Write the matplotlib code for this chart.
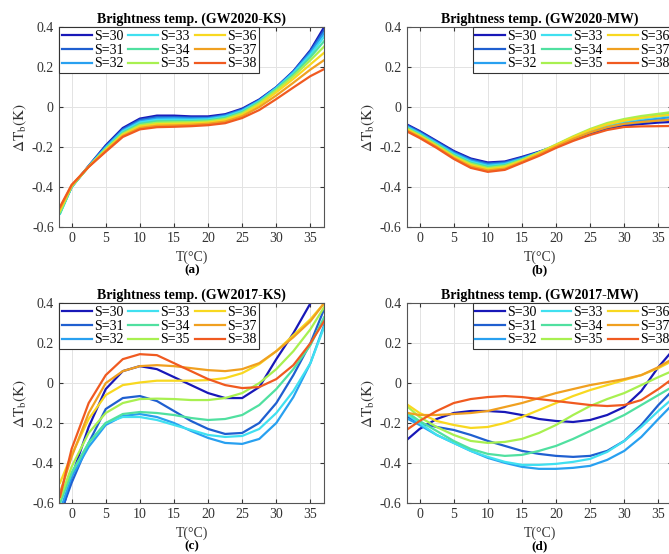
import matplotlib
matplotlib.use("Agg")
import matplotlib.pyplot as plt

plt.rcParams['font.family'] = ['Liberation Serif', 'DejaVu Serif']
plt.rcParams['mathtext.fontset'] = 'stix'

temps = [-1.7, 0, 2.5, 5, 7.5, 10, 12.5, 15, 17.5, 20, 22.5, 25, 27.5, 30, 32.5, 35, 37]
salinities = [30, 31, 32, 33, 34, 35, 36, 37, 38]
colors = ['#1818b8', '#1f5fd0', '#28a0f0', '#40e0f0', '#50e0a0',
          '#a8f050', '#f8d820', '#f0a020', '#f05a20']

# (a) GW2020-KS, one row per salinity
gw2020_ks = [
    [-0.525, -0.400, -0.295, -0.192, -0.105, -0.058, -0.043, -0.043, -0.047, -0.047, -0.036, -0.008, 0.038, 0.100, 0.180, 0.285, 0.400],
    [-0.528, -0.400, -0.296, -0.197, -0.111, -0.064, -0.050, -0.050, -0.053, -0.053, -0.040, -0.012, 0.035, 0.099, 0.178, 0.280, 0.385],
    [-0.532, -0.401, -0.297, -0.201, -0.117, -0.071, -0.057, -0.056, -0.058, -0.057, -0.044, -0.016, 0.032, 0.097, 0.175, 0.272, 0.370],
    [-0.535, -0.401, -0.298, -0.205, -0.122, -0.077, -0.064, -0.063, -0.064, -0.062, -0.049, -0.020, 0.029, 0.094, 0.170, 0.262, 0.352],
    [-0.532, -0.400, -0.298, -0.209, -0.128, -0.084, -0.071, -0.070, -0.070, -0.067, -0.054, -0.025, 0.025, 0.090, 0.163, 0.250, 0.330],
    [-0.525, -0.398, -0.299, -0.212, -0.134, -0.091, -0.079, -0.077, -0.076, -0.072, -0.060, -0.031, 0.019, 0.084, 0.154, 0.235, 0.303],
    [-0.515, -0.395, -0.299, -0.216, -0.139, -0.098, -0.086, -0.084, -0.082, -0.078, -0.066, -0.038, 0.011, 0.074, 0.141, 0.214, 0.272],
    [-0.508, -0.393, -0.300, -0.220, -0.145, -0.105, -0.094, -0.092, -0.089, -0.084, -0.073, -0.046, 0.000, 0.058, 0.122, 0.188, 0.235],
    [-0.500, -0.390, -0.300, -0.224, -0.150, -0.112, -0.101, -0.099, -0.096, -0.091, -0.081, -0.055, -0.015, 0.040, 0.098, 0.155, 0.190],
]

# (b) GW2020-MW
gw2020_mw = [
    [-0.090, -0.120, -0.170, -0.220, -0.258, -0.278, -0.273, -0.250, -0.224, -0.195, -0.162, -0.132, -0.108, -0.093, -0.085, -0.078, -0.075],
    [-0.094, -0.124, -0.174, -0.225, -0.263, -0.283, -0.277, -0.254, -0.226, -0.195, -0.160, -0.128, -0.103, -0.086, -0.077, -0.068, -0.062],
    [-0.099, -0.129, -0.179, -0.230, -0.268, -0.289, -0.282, -0.258, -0.228, -0.195, -0.158, -0.124, -0.097, -0.079, -0.068, -0.058, -0.050],
    [-0.103, -0.133, -0.183, -0.235, -0.274, -0.295, -0.287, -0.261, -0.229, -0.193, -0.155, -0.119, -0.091, -0.072, -0.059, -0.048, -0.040],
    [-0.107, -0.137, -0.187, -0.240, -0.279, -0.300, -0.291, -0.263, -0.228, -0.190, -0.151, -0.114, -0.085, -0.065, -0.051, -0.040, -0.032],
    [-0.111, -0.141, -0.191, -0.245, -0.285, -0.306, -0.296, -0.266, -0.228, -0.188, -0.147, -0.110, -0.080, -0.060, -0.045, -0.034, -0.025],
    [-0.115, -0.145, -0.196, -0.250, -0.291, -0.312, -0.302, -0.270, -0.232, -0.191, -0.151, -0.115, -0.087, -0.068, -0.055, -0.045, -0.038],
    [-0.120, -0.150, -0.200, -0.255, -0.298, -0.318, -0.309, -0.275, -0.238, -0.198, -0.160, -0.127, -0.101, -0.084, -0.075, -0.068, -0.063],
    [-0.125, -0.155, -0.205, -0.260, -0.305, -0.325, -0.315, -0.280, -0.245, -0.205, -0.170, -0.140, -0.115, -0.100, -0.097, -0.096, -0.095],
]

# (c) GW2017-KS
gw2017_ks = [
    [-0.680, -0.470, -0.220, -0.030, 0.060, 0.085, 0.070, 0.030, -0.010, -0.050, -0.075, -0.075, -0.020, 0.120, 0.250, 0.400, 0.600],
    [-0.660, -0.500, -0.300, -0.130, -0.075, -0.065, -0.090, -0.140, -0.190, -0.230, -0.255, -0.250, -0.200, -0.100, 0.040, 0.200, 0.370],
    [-0.640, -0.470, -0.320, -0.210, -0.165, -0.155, -0.170, -0.200, -0.240, -0.275, -0.300, -0.305, -0.280, -0.200, -0.070, 0.100, 0.290],
    [-0.600, -0.450, -0.300, -0.200, -0.170, -0.170, -0.185, -0.210, -0.235, -0.260, -0.270, -0.265, -0.230, -0.150, -0.040, 0.100, 0.280],
    [-0.600, -0.450, -0.300, -0.200, -0.155, -0.145, -0.150, -0.160, -0.175, -0.185, -0.180, -0.160, -0.110, -0.030, 0.070, 0.190, 0.330],
    [-0.580, -0.420, -0.250, -0.150, -0.100, -0.080, -0.078, -0.080, -0.085, -0.085, -0.075, -0.050, 0.000, 0.070, 0.160, 0.270, 0.380],
    [-0.500, -0.360, -0.180, -0.060, -0.010, 0.003, 0.012, 0.012, 0.012, 0.015, 0.025, 0.050, 0.095, 0.160, 0.240, 0.320, 0.400],
    [-0.550, -0.370, -0.150, 0.000, 0.060, 0.085, 0.090, 0.085, 0.075, 0.065, 0.060, 0.070, 0.100, 0.160, 0.230, 0.310, 0.400],
    [-0.570, -0.330, -0.100, 0.040, 0.120, 0.145, 0.140, 0.100, 0.060, 0.020, -0.010, -0.025, -0.020, 0.020, 0.090, 0.200, 0.310],
]

# (d) GW2017-MW
gw2017_mw = [
    [-0.280, -0.230, -0.180, -0.150, -0.140, -0.140, -0.145, -0.160, -0.180, -0.190, -0.195, -0.185, -0.160, -0.120, -0.040, 0.080, 0.160],
    [-0.170, -0.200, -0.220, -0.235, -0.260, -0.290, -0.315, -0.340, -0.355, -0.365, -0.370, -0.365, -0.340, -0.290, -0.210, -0.110, -0.040],
    [-0.180, -0.210, -0.260, -0.300, -0.340, -0.375, -0.400, -0.420, -0.430, -0.430, -0.425, -0.415, -0.385, -0.340, -0.270, -0.180, -0.110],
    [-0.160, -0.200, -0.260, -0.300, -0.340, -0.370, -0.395, -0.410, -0.410, -0.405, -0.395, -0.380, -0.345, -0.290, -0.220, -0.140, -0.080],
    [-0.150, -0.190, -0.240, -0.290, -0.330, -0.355, -0.365, -0.360, -0.340, -0.315, -0.280, -0.240, -0.200, -0.160, -0.110, -0.060, -0.020],
    [-0.120, -0.170, -0.220, -0.260, -0.290, -0.300, -0.295, -0.280, -0.250, -0.210, -0.160, -0.115, -0.080, -0.050, -0.010, 0.030, 0.060],
    [-0.110, -0.150, -0.190, -0.210, -0.225, -0.220, -0.200, -0.170, -0.135, -0.100, -0.065, -0.035, -0.010, 0.015, 0.040, 0.075, 0.110],
    [-0.150, -0.160, -0.160, -0.155, -0.150, -0.140, -0.120, -0.100, -0.075, -0.050, -0.030, -0.010, 0.005, 0.020, 0.040, 0.080, 0.120],
    [-0.230, -0.190, -0.140, -0.100, -0.080, -0.070, -0.065, -0.070, -0.080, -0.090, -0.100, -0.110, -0.115, -0.110, -0.085, -0.030, 0.020],
]

panels = [
    (gw2020_ks, 'Brightness temp. (GW2020-KS)', '(a)', 'upper left', [0.0887, 0.5908, 0.3957, 0.36]),
    (gw2020_mw, 'Brightness temp. (GW2020-MW)', '(b)', 'upper right', [0.6088, 0.5908, 0.3957, 0.36]),
    (gw2017_ks, 'Brightness temp. (GW2017-KS)', '(c)', 'upper left', [0.0887, 0.0925, 0.3957, 0.36]),
    (gw2017_mw, 'Brightness temp. (GW2017-MW)', '(d)', 'upper right', [0.6088, 0.0925, 0.3957, 0.36]),
]

fig = plt.figure(figsize=(6.69, 5.54), dpi=100)

for data, title, tag, loc, pos in panels:
    ax = fig.add_axes(pos)
    for s, col, vals in zip(salinities, colors, data):
        ax.plot(temps, vals, color=col, linewidth=1.6, label=f"S={s}")
    ax.set_xlim(-1.8, 37)
    ax.set_ylim(-0.6, 0.4)
    ax.set_xticks([0, 5, 10, 15, 20, 25, 30, 35])
    ax.set_yticks([-0.6, -0.4, -0.2, 0, 0.2, 0.4])
    ax.set_yticklabels(['-0.6', '-0.4', '-0.2', '0', '0.2', '0.4'])
    ax.grid(True, color='#e3e3e3', linewidth=0.7)
    ax.set_axisbelow(True)
    ax.tick_params(direction='in', length=3, labelsize=10, colors='#333333',
                   top=True, right=True, pad=4)
    for sp in ax.spines.values():
        sp.set_color('#555555')
        sp.set_linewidth(0.8)
    ax.set_title(title, fontsize=10, fontweight='bold', pad=3)
    ax.set_xlabel('T(°C)', fontsize=10, color='#333333', labelpad=3.5)
    ax.set_ylabel(r'$\Delta\mathrm{T_b(K)}$', fontsize=11, color='#333333', labelpad=2)
    ax.text(0.5, -0.22, tag, transform=ax.transAxes, ha='center', va='center',
            fontsize=9.5, fontweight='bold')
    leg = ax.legend(loc=loc, ncol=3, fontsize=10, frameon=True, fancybox=False,
                    borderaxespad=0, handlelength=2.15, handletextpad=0.15,
                    columnspacing=0.35, labelspacing=0.05, borderpad=0.2)
    leg.get_frame().set_edgecolor('#333333')
    leg.get_frame().set_linewidth(0.8)
    leg.get_frame().set_alpha(1)

fig.savefig('out.png', dpi=100)
